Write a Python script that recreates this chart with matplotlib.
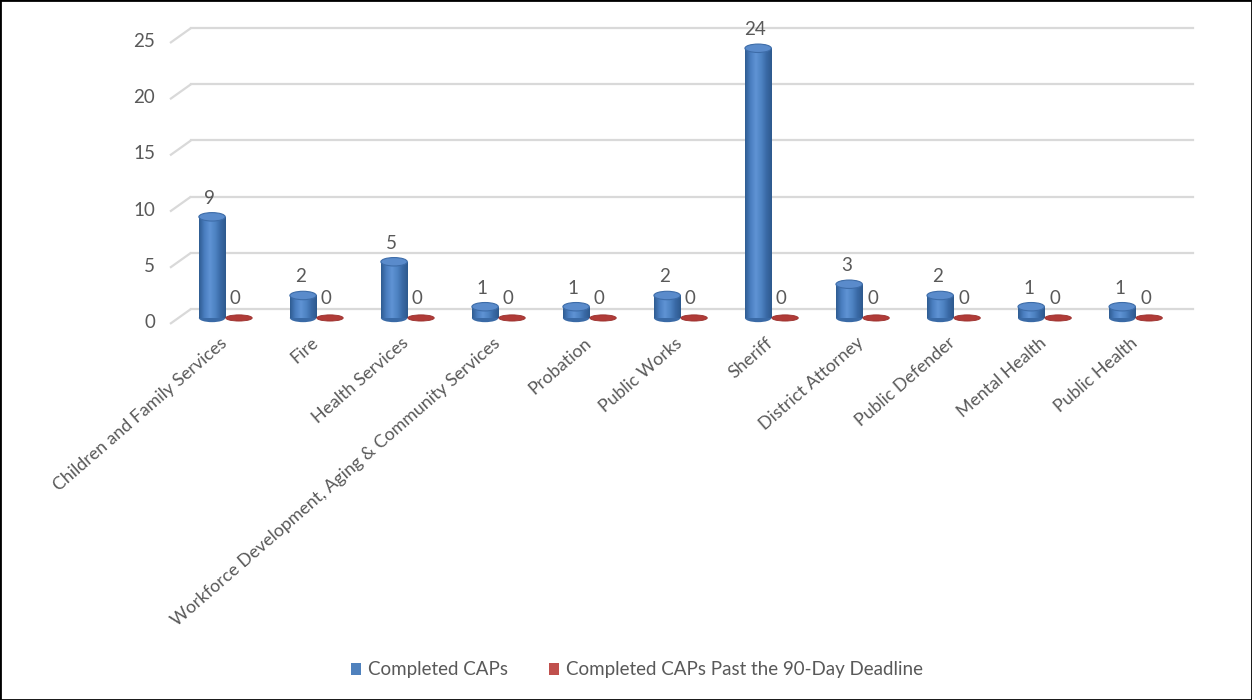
import numpy as np
import matplotlib
matplotlib.use("Agg")
import matplotlib.pyplot as plt
from matplotlib.patches import Ellipse, Rectangle, Patch
from matplotlib.colors import LinearSegmentedColormap

categories = ["Children and Family Services", "Fire", "Health Services",
              "Workforce Development, Aging & Community Services", "Probation",
              "Public Works", "Sheriff", "District Attorney", "Public Defender",
              "Mental Health", "Public Health"]
completed = [9, 2, 5, 1, 1, 2, 24, 3, 2, 1, 1]
past_deadline = [0, 0, 0, 0, 0, 0, 0, 0, 0, 0, 0]
series_names = ["Completed CAPs", "Completed CAPs Past the 90-Day Deadline"]
yticks = [0, 5, 10, 15, 20, 25]

plt.rcParams['font.family'] = ['Lato', 'DejaVu Sans']
TXT = "#595959"

fig = plt.figure(figsize=(12.52, 7.0), dpi=100)
fig.patch.set_facecolor("white")
ax = fig.add_axes([170/1252, 1-329.2/700, (1193-170)/1252, (329.2-25.8)/700])
ax.set_xlim(-0.61, 10.63)
ax.set_ylim(-1, 26)
for s in ax.spines.values():
    s.set_visible(False)
ax.set_yticks([])

x = np.arange(len(categories))
off = 0.148
w = 0.29
xb = (191 - 225.5) / 91

# gridlines with slanted floor segment
for v in yticks:
    ax.plot([-0.61, xb], [v - 0.53, v + 0.8], color="#D9D9D9", lw=1.6, zorder=1,
            solid_capstyle="butt", clip_on=False)
    ax.plot([xb, 10.63], [v + 0.8, v + 0.8], color="#D9D9D9", lw=1.6, zorder=1,
            clip_on=False)
    ax.text(-0.775, v - 0.4, str(v), ha="right", va="center", fontsize=13.5,
            color=TXT, clip_on=False)

cmap = LinearSegmentedColormap.from_list(
    "cyl", ["#2F5C92", "#4A7EC0", "#5F93D4", "#4F84C4", "#3A6AA6", "#2E5A8E"])
grad = np.linspace(0, 1, 64).reshape(1, -1)

bars = ax.bar(x - off, completed, width=w, color="#4F81BD", zorder=3, linewidth=0)
eh = 0.75
for b, v in zip(bars, completed):
    xc = b.get_x() + b.get_width() / 2
    im = ax.imshow(grad, cmap=cmap, aspect="auto", zorder=3,
                   extent=[b.get_x(), b.get_x() + b.get_width(), 0, v],
                   interpolation="bilinear")
    im.set_clip_path(b)
    ax.add_patch(Ellipse((xc, 0), w, eh, facecolor="#3A6AA6", edgecolor="none", zorder=2.9))
    ax.add_patch(Ellipse((xc, v), w, eh, facecolor="#5A8BCB", edgecolor="#3D6CA8",
                         lw=0.8, zorder=4))
    ax.text(xc - 0.03, v + 1.65, str(v), ha="center", va="center", fontsize=13.5,
            color=TXT, zorder=5)

for xi, v in zip(x + off, past_deadline):
    ax.bar(xi, v, width=w, color="#C0504D", zorder=3)
    ax.add_patch(Ellipse((xi, v), w, 0.55, facecolor="#B03B38", edgecolor="#9A2E2B",
                         lw=0.6, zorder=4))
    ax.text(xi - 0.04, v + 1.7, str(v), ha="center", va="center", fontsize=13.5,
            color=TXT, zorder=5)

ax.set_xticks(x)
ax.set_xticklabels(categories, rotation=41, ha="right", rotation_mode="anchor",
                   fontsize=12.8, color=TXT)
ax.tick_params(axis="x", length=0, pad=4)
for lbl in ax.get_xticklabels():
    lbl.set_transform(lbl.get_transform() + matplotlib.transforms.ScaledTranslation(-6/100, 0, fig.dpi_scale_trans))

handles = [Patch(facecolor="#4F81BD", edgecolor="none"),
           Patch(facecolor="#C0504D", edgecolor="none")]
leg = fig.legend(handles, series_names, loc="center", bbox_to_anchor=(637/1252, 1-670/700),
                 ncol=2, frameon=False, fontsize=13.5, handlelength=0.55,
                 handleheight=0.55, handletextpad=0.35, columnspacing=2.2)
for t in leg.get_texts():
    t.set_color(TXT)

fig.add_artist(Rectangle((0, 0), 1, 1, transform=fig.transFigure, fill=False,
                         edgecolor="black", lw=2.0))

fig.savefig("out.png", dpi=100)
